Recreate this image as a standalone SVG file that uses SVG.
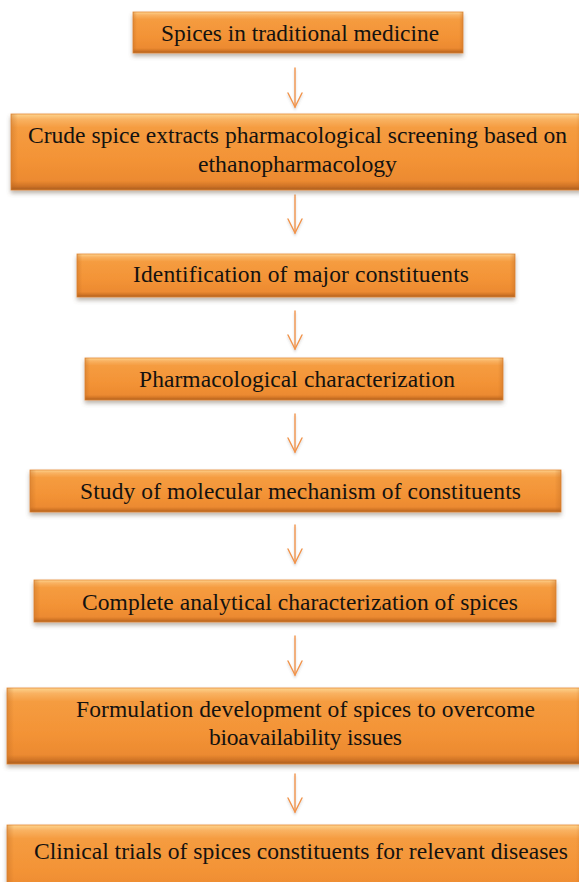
<svg xmlns="http://www.w3.org/2000/svg" width="579" height="882" viewBox="0 0 579 882">
<style>
  .box { fill: url(#og); stroke: #e58a36; stroke-width: 0.8; filter: url(#sh); }
  .hl { fill: url(#hg); }
  .lbl { font-family: "Liberation Serif", "Times New Roman", serif; font-size: 23.5px; fill: #141210; }
  .arr { fill: none; stroke: #f1944a; stroke-width: 1.4; stroke-linecap: round; stroke-linejoin: miter; }
</style>
<defs>
  <linearGradient id="og" x1="0" y1="0" x2="0" y2="1">
    <stop offset="0" stop-color="#fdd48e"/>
    <stop offset="0.07" stop-color="#f9b262"/>
    <stop offset="0.18" stop-color="#f59c40"/>
    <stop offset="0.6" stop-color="#f39336"/>
    <stop offset="0.88" stop-color="#ec8a30"/>
    <stop offset="0.95" stop-color="#cf7326"/>
    <stop offset="1" stop-color="#a85c1c"/>
  </linearGradient>
  <linearGradient id="hg" x1="0" y1="0" x2="1" y2="0">
    <stop offset="0" stop-color="#b8651f" stop-opacity="0.35"/>
    <stop offset="0.012" stop-color="#b8651f" stop-opacity="0"/>
    <stop offset="0.988" stop-color="#b8651f" stop-opacity="0"/>
    <stop offset="1" stop-color="#b8651f" stop-opacity="0.35"/>
  </linearGradient>
  <filter id="sh" x="-5%" y="-20%" width="110%" height="150%">
    <feDropShadow dx="0" dy="3" stdDeviation="2" flood-color="#6b5a4a" flood-opacity="0.45"/>
  </filter>
  <filter id="ash" x="-50%" y="-10%" width="200%" height="130%">
    <feDropShadow dx="0" dy="2" stdDeviation="1.2" flood-color="#888" flood-opacity="0.35"/>
  </filter>
</defs>
<rect width="579" height="882" fill="#ffffff"/>

<g id="connectors" filter="url(#ash)">
  <g id="c1"><line class="arr" x1="295" y1="68" x2="295" y2="107"/><polyline class="arr" points="288,93 295,107 302,93"/></g>
  <g id="c2"><line class="arr" x1="295" y1="195" x2="295" y2="233"/><polyline class="arr" points="288,219 295,233 302,219"/></g>
  <g id="c3"><line class="arr" x1="295" y1="311" x2="295" y2="349"/><polyline class="arr" points="288,335 295,349 302,335"/></g>
  <g id="c4"><line class="arr" x1="295" y1="414" x2="295" y2="452"/><polyline class="arr" points="288,438 295,452 302,438"/></g>
  <g id="c5"><line class="arr" x1="295" y1="525" x2="295" y2="563"/><polyline class="arr" points="288,549 295,563 302,549"/></g>
  <g id="c6"><line class="arr" x1="295" y1="636" x2="295" y2="675"/><polyline class="arr" points="288,661 295,675 302,661"/></g>
  <g id="c7"><line class="arr" x1="295" y1="774" x2="295" y2="812"/><polyline class="arr" points="288,798 295,812 302,798"/></g>
</g>

<g id="n1">
  <rect class="box" x="133" y="12" width="330" height="41"/>
  <rect class="hl" x="133" y="12" width="330" height="41"/>
  <text class="lbl" x="161" y="41" textLength="278" lengthAdjust="spacingAndGlyphs">Spices in traditional medicine</text>
</g>
<g id="n2">
  <rect class="box" x="11" y="114" width="572" height="76"/>
  <rect class="hl" x="11" y="114" width="572" height="76"/>
  <text class="lbl" x="28" y="143" textLength="539" lengthAdjust="spacingAndGlyphs">Crude spice extracts pharmacological screening based on</text>
  <text class="lbl" x="198" y="172" textLength="199" lengthAdjust="spacingAndGlyphs">ethanopharmacology</text>
</g>
<g id="n3">
  <rect class="box" x="77" y="254" width="438" height="43"/>
  <rect class="hl" x="77" y="254" width="438" height="43"/>
  <text class="lbl" x="133" y="282" textLength="336" lengthAdjust="spacing">Identification of major constituents</text>
</g>
<g id="n4">
  <rect class="box" x="85" y="358" width="418" height="42"/>
  <rect class="hl" x="85" y="358" width="418" height="42"/>
  <text class="lbl" x="139" y="387" textLength="316" lengthAdjust="spacing">Pharmacological characterization</text>
</g>
<g id="n5">
  <rect class="box" x="30" y="470" width="531" height="42"/>
  <rect class="hl" x="30" y="470" width="531" height="42"/>
  <text class="lbl" x="80" y="499" textLength="441" lengthAdjust="spacing">Study of molecular mechanism of constituents</text>
</g>
<g id="n6">
  <rect class="box" x="34" y="580" width="522" height="42"/>
  <rect class="hl" x="34" y="580" width="522" height="42"/>
  <text class="lbl" x="82" y="610" textLength="436" lengthAdjust="spacing">Complete analytical characterization of spices</text>
</g>
<g id="n7">
  <rect class="box" x="7" y="688" width="576" height="76"/>
  <rect class="hl" x="7" y="688" width="576" height="76"/>
  <text class="lbl" x="76" y="717" textLength="459" lengthAdjust="spacing">Formulation development of spices to overcome</text>
  <text class="lbl" x="209" y="745" textLength="193" lengthAdjust="spacing">bioavailability issues</text>
</g>
<g id="n8">
  <rect class="box" x="7" y="825" width="576" height="76"/>
  <rect class="hl" x="7" y="825" width="576" height="76"/>
  <text class="lbl" x="34" y="859" textLength="534" lengthAdjust="spacingAndGlyphs">Clinical trials of spices constituents for relevant diseases</text>
</g>
</svg>
